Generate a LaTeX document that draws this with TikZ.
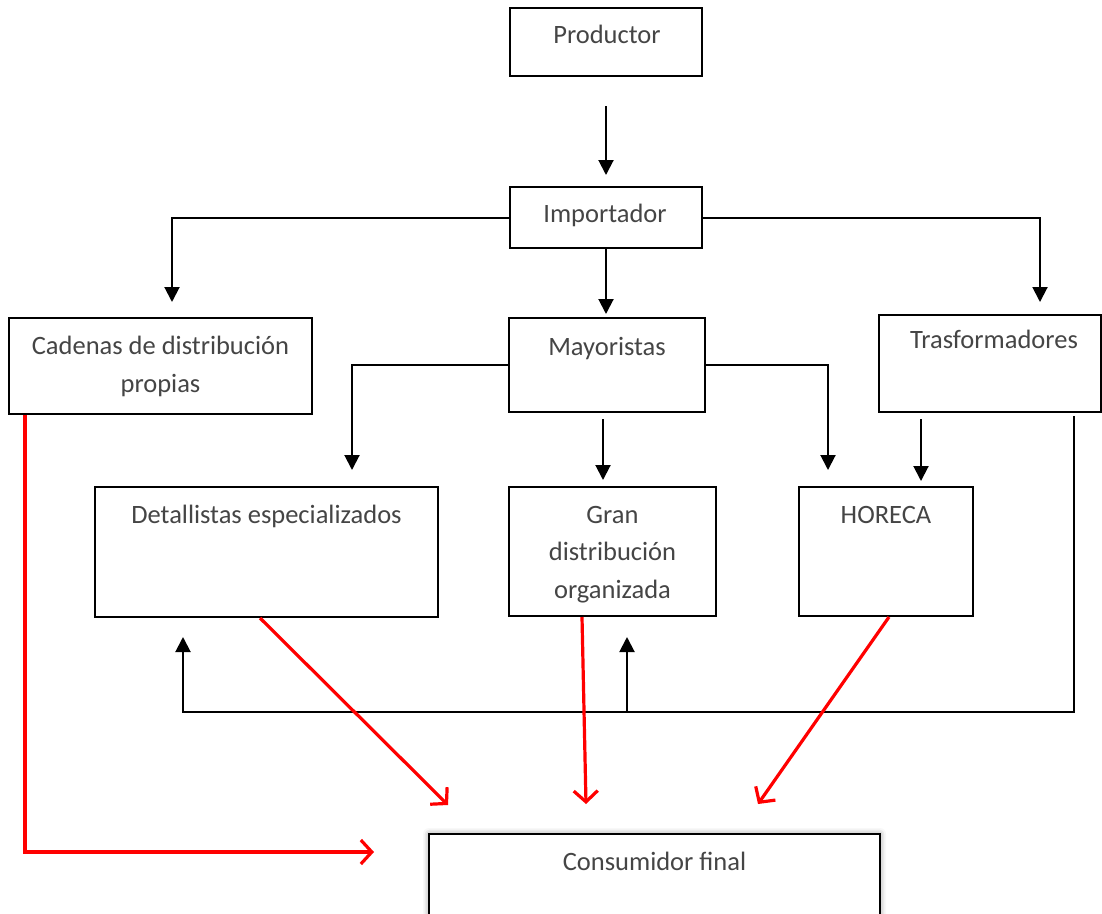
\documentclass[tikz,border=0pt]{standalone}
\usepackage{fontspec}
\setmainfont{Carlito}
\usetikzlibrary{arrows.meta,calc,shadows.blur}
\definecolor{txtgray}{HTML}{454545}
\definecolor{redline}{HTML}{FF0000}
\tikzset{
  box/.style={draw=black, line width=2pt, inner sep=0pt, fill=white},
  lbl/.style={text=txtgray, font=\fontsize{26.5}{37.5}\selectfont, align=center, inner sep=0pt, anchor=base},
  blk/.style={draw=black, line width=2pt, -{Triangle[length=15pt,width=15pt]}},
  rd/.style={draw=redline, line width=3.2pt, -{Straight Barb[length=11pt,width=24pt,line width=3.2pt]}}
}
\begin{document}
\begin{tikzpicture}[x=1pt,y=-1pt]
\useasboundingbox (0,0) rectangle (1102,913);
% boxes
\node[box, minimum width=192, minimum height=68] (prod) at (606,42) {};
\node[box, minimum width=192, minimum height=61] (imp) at (606,217.5) {};
\node[box, minimum width=303, minimum height=96] (cad) at (160.5,366) {};
\node[box, minimum width=196, minimum height=94] (may) at (607,365) {};
\node[box, minimum width=222, minimum height=97] (tra) at (990,363.5) {};
\node[box, minimum width=343, minimum height=130] (det) at (266.5,552) {};
\node[box, minimum width=207, minimum height=129] (gran) at (612.5,551.5) {};
\node[box, minimum width=174, minimum height=129] (hor) at (886,551.5) {};
\node[box, minimum width=451, minimum height=140, blur shadow={shadow xshift=0pt, shadow yshift=0pt, shadow blur radius=6pt, shadow opacity=45}] (cons) at (654.5,904) {};
% labels (anchor = baseline of last line)
\node[lbl] (prodt) at (607,43) {Productor};
\node[lbl] (impt) at (605,222) {Importador};
\node[lbl] (cadt) at (160.5,392) {Cadenas de distribución\\propias};
\node[lbl] (mayt) at (607,355) {Mayoristas};
\node[lbl] (trat) at (994,348) {Trasformadores};
\node[lbl] (dett) at (266.5,523) {Detallistas especializados};
\node[lbl] (grant) at (612.5,598) {Gran\\distribución\\organizada};
\node[lbl] (hort) at (886,523) {HORECA};
\node[lbl] (const) at (654.5,870) {Consumidor final};
% black connectors
\draw[blk, shorten <=29pt, shorten >=11pt] (prod.south) -- (imp.north);
\draw[blk, shorten >=15pt] (imp.west) -| ([xshift=11.5pt]cad.north);
\draw[blk, shorten >=12pt] (imp.east) -| ([xshift=50pt]tra.north);
\draw[blk, shorten >=3pt] (imp.south) -- (imp.south |- may.north);
\draw[blk, shorten >=16pt] (may.west) -| ([xshift=85.5pt]det.north);
\draw[blk, shorten >=16pt] (may.east) -| ([xshift=-58pt]hor.north);
\draw[blk, shorten <=6pt, shorten >=6pt] ([xshift=-4pt]may.south) -- ([xshift=-4pt]may.south |- gran.north);
\draw[blk, shorten <=6pt, shorten >=5pt] ([xshift=-69pt]tra.south) -- ([xshift=35pt]hor.north);
\coordinate (fb) at (627,712);
\draw[blk, shorten <=3pt, shorten >=20pt] ([xshift=84pt]tra.south) |- (fb) -- (fb |- gran.south);
\draw[blk, shorten >=19pt] (fb) -| ([xshift=-83.5pt]det.south);
% red connectors
\draw[rd, shorten >=54pt] ([xshift=-135.5pt]cad.south) |- ([yshift=-19pt]cons.north west);
\draw[rd] ([xshift=-6.5pt]det.south) -- ([xshift=20pt,yshift=28pt]cons.north west);
\draw[rd] ([xshift=-30.5pt]gran.south) -- ([xshift=-68.5pt,yshift=29pt]cons.north);
\draw[rd] ([xshift=3pt]hor.south) -- ([xshift=103.5pt,yshift=29pt]cons.north);
\end{tikzpicture}
\end{document}
